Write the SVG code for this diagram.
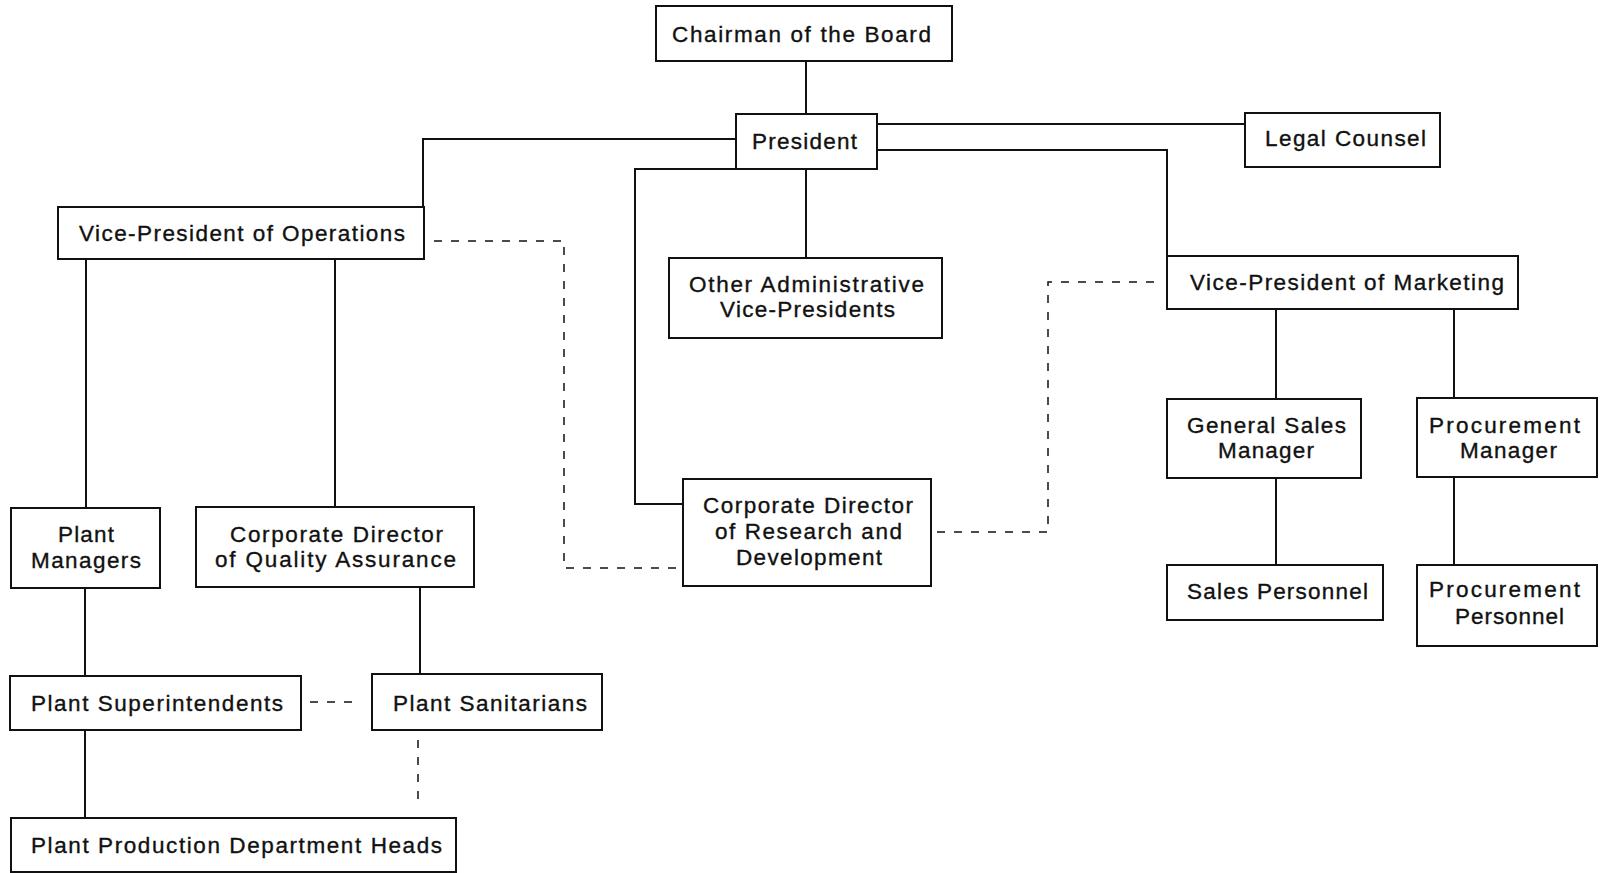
<svg xmlns="http://www.w3.org/2000/svg" width="1605" height="873" viewBox="0 0 1605 873">
  <style>
    .box { fill: #ffffff; stroke: #111111; stroke-width: 2; }
    .lbl { font-family: "Liberation Sans", Arial, Helvetica, sans-serif; font-size: 22.5px; fill: #111111; stroke: #111111; stroke-width: 0.35; }
    .wire { fill: none; stroke: #111111; stroke-width: 2; }
    .dash { fill: none; stroke: #111111; stroke-width: 1.5; stroke-dasharray: 8 9; }
  </style>
  <rect x="0" y="0" width="1605" height="873" fill="#ffffff"/>

  <!-- reporting lines -->
  <g id="connectors">
    <path class="wire" d="M806 61 V114"/>
    <path class="wire" d="M877 124 H1245"/>
    <path class="wire" d="M877 150 H1167 V256"/>
    <path class="wire" d="M736 139 H423 V207"/>
    <path class="wire" d="M806 169 V258"/>
    <path class="wire" d="M736 169 H635 V504 H683"/>
    <path class="wire" d="M86 259 V508"/>
    <path class="wire" d="M335 259 V507"/>
    <path class="wire" d="M85 588 V676"/>
    <path class="wire" d="M85 730 V818"/>
    <path class="wire" d="M420 587 V674"/>
    <path class="wire" d="M1276 309 V399"/>
    <path class="wire" d="M1454 309 V398"/>
    <path class="wire" d="M1276 478 V565"/>
    <path class="wire" d="M1454 477 V565"/>
    <!-- advisory / coordination links -->
    <path class="dash" d="M434 241 H564 V568 H677"/>
    <path class="dash" d="M937 532 H1048 V282 H1159"/>
    <path class="dash" d="M310 702 H359"/>
    <path class="dash" d="M418 740 V804"/>
  </g>

  <g id="chairman">
    <rect class="box" x="656" y="6" width="296" height="55"/>
    <text class="lbl" x="672" y="42" textLength="259" lengthAdjust="spacing">Chairman of the Board</text>
  </g>
  <g id="president">
    <rect class="box" x="736" y="114" width="141" height="55"/>
    <text class="lbl" x="752" y="149" textLength="105" lengthAdjust="spacing">President</text>
  </g>
  <g id="legal-counsel">
    <rect class="box" x="1245" y="113" width="195" height="54"/>
    <text class="lbl" x="1265" y="146" textLength="161" lengthAdjust="spacing">Legal Counsel</text>
  </g>
  <g id="vp-operations">
    <rect class="box" x="58" y="207" width="366" height="52"/>
    <text class="lbl" x="79" y="241" textLength="326" lengthAdjust="spacing">Vice-President of Operations</text>
  </g>
  <g id="other-admin-vps">
    <rect class="box" x="669" y="258" width="273" height="80"/>
    <text class="lbl" x="689" y="292" textLength="235" lengthAdjust="spacing">Other Administrative</text>
    <text class="lbl" x="720" y="317" textLength="175" lengthAdjust="spacing">Vice-Presidents</text>
  </g>
  <g id="vp-marketing">
    <rect class="box" x="1167" y="256" width="351" height="53"/>
    <text class="lbl" x="1190" y="290" textLength="314" lengthAdjust="spacing">Vice-President of Marketing</text>
  </g>
  <g id="research-development">
    <rect class="box" x="683" y="479" width="248" height="107"/>
    <text class="lbl" x="703" y="513" textLength="210" lengthAdjust="spacing">Corporate Director</text>
    <text class="lbl" x="715" y="539" textLength="187" lengthAdjust="spacing">of Research and</text>
    <text class="lbl" x="736" y="565" textLength="146" lengthAdjust="spacing">Development</text>
  </g>
  <g id="plant-managers">
    <rect class="box" x="11" y="508" width="149" height="80"/>
    <text class="lbl" x="58" y="542" textLength="56" lengthAdjust="spacing">Plant</text>
    <text class="lbl" x="31" y="568" textLength="110" lengthAdjust="spacing">Managers</text>
  </g>
  <g id="quality-assurance">
    <rect class="box" x="196" y="507" width="278" height="80"/>
    <text class="lbl" x="230" y="542" textLength="213" lengthAdjust="spacing">Corporate Director</text>
    <text class="lbl" x="215" y="567" textLength="241" lengthAdjust="spacing">of Quality Assurance</text>
  </g>
  <g id="general-sales-manager">
    <rect class="box" x="1167" y="399" width="194" height="79"/>
    <text class="lbl" x="1187" y="433" textLength="159" lengthAdjust="spacing">General Sales</text>
    <text class="lbl" x="1218" y="458" textLength="96" lengthAdjust="spacing">Manager</text>
  </g>
  <g id="procurement-manager">
    <rect class="box" x="1417" y="398" width="180" height="79"/>
    <text class="lbl" x="1429" y="433" textLength="151" lengthAdjust="spacing">Procurement</text>
    <text class="lbl" x="1460" y="458" textLength="97" lengthAdjust="spacing">Manager</text>
  </g>
  <g id="sales-personnel">
    <rect class="box" x="1167" y="565" width="216" height="55"/>
    <text class="lbl" x="1187" y="599" textLength="181" lengthAdjust="spacing">Sales Personnel</text>
  </g>
  <g id="procurement-personnel">
    <rect class="box" x="1417" y="565" width="180" height="81"/>
    <text class="lbl" x="1429" y="597" textLength="151" lengthAdjust="spacing">Procurement</text>
    <text class="lbl" x="1455" y="624" textLength="109" lengthAdjust="spacing">Personnel</text>
  </g>
  <g id="plant-superintendents">
    <rect class="box" x="10" y="676" width="291" height="54"/>
    <text class="lbl" x="31" y="711" textLength="252" lengthAdjust="spacing">Plant Superintendents</text>
  </g>
  <g id="plant-sanitarians">
    <rect class="box" x="372" y="674" width="230" height="56"/>
    <text class="lbl" x="393" y="711" textLength="194" lengthAdjust="spacing">Plant Sanitarians</text>
  </g>
  <g id="production-dept-heads">
    <rect class="box" x="11" y="818" width="445" height="54"/>
    <text class="lbl" x="31" y="853" textLength="411" lengthAdjust="spacing">Plant Production Department Heads</text>
  </g>
</svg>
